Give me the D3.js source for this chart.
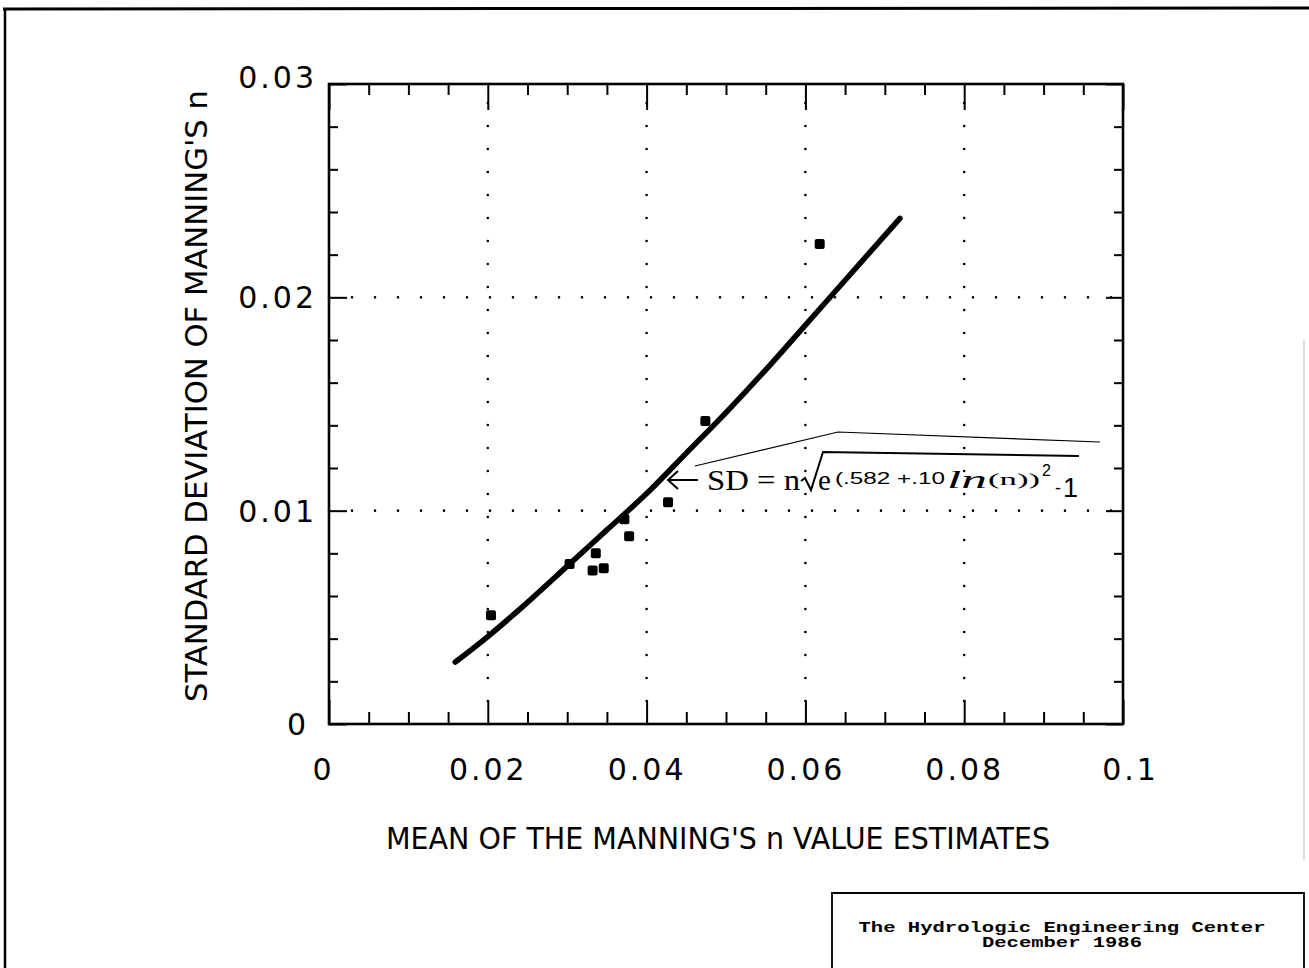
<!DOCTYPE html>
<html>
<head>
<meta charset="utf-8">
<script src="https://cdn.jsdelivr.net/npm/d3@7"></script>
<style>
  html, body { margin: 0; padding: 0; background: #fff; }
  svg { display: block; }
</style>
</head>
<body>
<svg id="chart" width="1309" height="968"></svg>
<script>
// ---------- data ----------
const meanN = [0.0204, 0.0303, 0.0336, 0.0332, 0.0346, 0.0372, 0.0378, 0.0427, 0.0474, 0.0618];
const sdN   = [0.0051, 0.0075, 0.0080, 0.0072, 0.0073, 0.0096, 0.0088, 0.0104, 0.0142, 0.0225];

const curveN  = [0.0159, 0.0200, 0.0250, 0.0300, 0.0350, 0.0400, 0.0450, 0.0500, 0.0550, 0.0600, 0.0650, 0.0719];
const curveSD = [0.0029, 0.0041, 0.0057, 0.0074, 0.0091, 0.0108, 0.0127, 0.0146, 0.0166, 0.0187, 0.0208, 0.0237];

const xTickValues = [0, 0.02, 0.04, 0.06, 0.08, 0.1];
const xTickLabels = ["0", "0.02", "0.04", "0.06", "0.08", "0.1"];
const yTickValues = [0, 0.01, 0.02, 0.03];
const yTickLabels = ["0", "0.01", "0.02", "0.03"];
const xGrid = [0.02, 0.04, 0.06, 0.08];
const yGrid = [0.01, 0.02];

const xTitle = "MEAN OF THE MANNING'S n VALUE ESTIMATES";
const yTitle = "STANDARD DEVIATION OF MANNING'S n";
const creditLines = ["The Hydrologic Engineering Center", "December 1986"];

// ---------- layout ----------
const svg = d3.select("#chart");
const L = 329, R = 1123, T = 84, B = 724;
const x = d3.scaleLinear().domain([0, 0.1]).range([L, R]);
const y = d3.scaleLinear().domain([0, 0.03]).range([B, T]);

const xMinor = x.ticks(25).filter(v => !xTickValues.some(t => Math.abs(t - v) < 1e-9));
const yMinor = y.ticks(15).filter(v => !yTickValues.some(t => Math.abs(t - v) < 1e-9));

const tickFont = "'DejaVu Sans', sans-serif";

// outer page frame
svg.append("line").attr("x1", 3).attr("y1", 9).attr("x2", 1309).attr("y2", 8)
  .attr("stroke", "#000").attr("stroke-width", 3);
svg.append("line").attr("x1", 5).attr("y1", 8).attr("x2", 5).attr("y2", 968)
  .attr("stroke", "#000").attr("stroke-width", 2.5);
svg.append("line").attr("x1", 1304).attr("y1", 340).attr("x2", 1304).attr("y2", 860)
  .attr("stroke", "#bbb").attr("stroke-width", 1);

// gridlines (dotted)
const grid = svg.append("g").attr("stroke", "#000").attr("stroke-width", 2.6)
  .attr("stroke-linecap", "round").attr("stroke-dasharray", "0 23");
grid.selectAll(".vg").data(xGrid).join("line")
  .attr("x1", d => x(d)).attr("x2", d => x(d)).attr("y1", y(0)).attr("y2", y(0.03) + 8);
grid.selectAll(".hg").data(yGrid).join("line")
  .attr("y1", d => y(d)).attr("y2", d => y(d)).attr("x1", x(0)).attr("x2", x(0.1) - 6);

// axes helper
function styleAxis(g) {
  g.select(".domain").remove();
  g.selectAll(".tick line").attr("stroke", "#000").attr("stroke-width", 2);
  g.selectAll("text").attr("fill", "#000").attr("font-family", tickFont)
    .attr("font-size", 30).attr("letter-spacing", 3);
}

// bottom axis
svg.append("g").attr("transform", `translate(0,${B})`)
  .call(d3.axisBottom(x).tickValues(xTickValues).tickSize(-24).tickPadding(35)
    .tickFormat((d, i) => xTickLabels[i]))
  .call(styleAxis)
  .call(g => g.selectAll("text").attr("dx", (d, i) => i === 0 ? -6 : (i === xTickValues.length - 1 ? 7 : 0)));
svg.append("g").attr("transform", `translate(0,${B})`)
  .call(d3.axisBottom(x).tickValues(xMinor).tickSize(-12).tickFormat(""))
  .call(styleAxis);

// top axis
svg.append("g").attr("transform", `translate(0,${T})`)
  .call(d3.axisTop(x).tickValues(xTickValues).tickSize(-26).tickFormat(""))
  .call(styleAxis);
svg.append("g").attr("transform", `translate(0,${T})`)
  .call(d3.axisTop(x).tickValues(xMinor).tickSize(-11).tickFormat(""))
  .call(styleAxis);

// left axis
svg.append("g").attr("transform", `translate(${L},0)`)
  .call(d3.axisLeft(y).tickValues(yTickValues).tickSize(-18).tickPadding(12)
    .tickFormat((d, i) => yTickLabels[i]))
  .call(styleAxis)
  .call(g => g.selectAll("text").attr("dy", (d, i) => i === yTickValues.length - 1 ? "0.12em" : "0.35em")
    .attr("dx", (d, i) => i === 0 ? -8 : 0));
svg.append("g").attr("transform", `translate(${L},0)`)
  .call(d3.axisLeft(y).tickValues(yMinor).tickSize(-9).tickFormat(""))
  .call(styleAxis);

// right axis
svg.append("g").attr("transform", `translate(${R},0)`)
  .call(d3.axisRight(y).tickValues(yTickValues).tickSize(-17).tickFormat(""))
  .call(styleAxis);
svg.append("g").attr("transform", `translate(${R},0)`)
  .call(d3.axisRight(y).tickValues(yMinor).tickSize(-9).tickFormat(""))
  .call(styleAxis);

// plot frame
svg.append("rect").attr("x", L).attr("y", T).attr("width", R - L).attr("height", B - T)
  .attr("fill", "none").attr("stroke", "#000").attr("stroke-width", 2.6);

// fitted curve
const curveData = curveN.map((n, i) => [n, curveSD[i]]);
svg.append("path").datum(curveData)
  .attr("d", d3.line().x(d => x(d[0])).y(d => y(d[1])).curve(d3.curveMonotoneX))
  .attr("fill", "none").attr("stroke", "#000").attr("stroke-width", 5.5)
  .attr("stroke-linecap", "round");

// data points
const pts = meanN.map((n, i) => [n, sdN[i]]);
svg.selectAll(".pt").data(pts).join("rect")
  .attr("x", d => x(d[0]) - 5).attr("y", d => y(d[1]) - 5)
  .attr("width", 10).attr("height", 10).attr("rx", 2)
  .attr("fill", "#000");

// axis titles
svg.append("text").attr("x", 718).attr("y", 849).attr("text-anchor", "middle")
  .attr("font-family", tickFont).attr("font-size", 30)
  .attr("textLength", 664).attr("lengthAdjust", "spacingAndGlyphs")
  .text(xTitle);
svg.append("text").attr("transform", "translate(207,396) rotate(-90)")
  .attr("text-anchor", "middle")
  .attr("font-family", tickFont).attr("font-size", 30)
  .attr("textLength", 612).attr("lengthAdjust", "spacingAndGlyphs")
  .text(yTitle);

// formula annotation
const ann = svg.append("g");
ann.append("line").attr("x1", 668).attr("y1", 480).attr("x2", 698).attr("y2", 480)
  .attr("stroke", "#000").attr("stroke-width", 2);
ann.append("path").attr("d", "M678,471 L668,480 L678,489")
  .attr("fill", "none").attr("stroke", "#000").attr("stroke-width", 2);
ann.append("path").attr("d", "M695,466 L838,432 L1100,442")
  .attr("fill", "none").attr("stroke", "#000").attr("stroke-width", 1.2);
ann.append("path").attr("d", "M801,481 L805,478 L811,490 L823,452 L1079,456")
  .attr("fill", "none").attr("stroke", "#000").attr("stroke-width", 2);

const serif = "'Liberation Serif', 'DejaVu Serif', serif";
const sans = "'Liberation Sans', Arial, sans-serif";
ann.append("text").attr("x", 707).attr("y", 490).attr("font-family", serif)
  .attr("font-size", 29).attr("textLength", 93).attr("lengthAdjust", "spacingAndGlyphs")
  .text("SD = n");
ann.append("text").attr("x", 818).attr("y", 490).attr("font-family", serif)
  .attr("font-size", 29).text("e");
ann.append("text").attr("x", 835).attr("y", 484).attr("font-family", sans)
  .attr("font-size", 17).attr("textLength", 110).attr("lengthAdjust", "spacingAndGlyphs")
  .text("(.582 +.10");
ann.append("text").attr("x", 947).attr("y", 488).attr("font-family", serif)
  .attr("font-style", "italic").attr("font-size", 25)
  .attr("textLength", 40).attr("lengthAdjust", "spacingAndGlyphs").text("ln");
ann.append("text").attr("x", 988).attr("y", 485).attr("font-family", serif)
  .attr("font-size", 16).attr("textLength", 52).attr("lengthAdjust", "spacingAndGlyphs")
  .text("(n))");
ann.append("text").attr("x", 1042).attr("y", 476).attr("font-family", sans)
  .attr("font-size", 16).text("2");
ann.append("text").attr("x", 1055).attr("y", 494).attr("font-family", sans)
  .attr("font-size", 18).text("-");
ann.append("text").attr("x", 1063).attr("y", 497).attr("font-family", sans)
  .attr("font-size", 27).text("1");

// credit box
svg.append("path").attr("d", "M832,968 L832,893 L1304,893 L1304,968")
  .attr("fill", "none").attr("stroke", "#000").attr("stroke-width", 1.8);
svg.selectAll(".credit").data(creditLines).join("text")
  .attr("x", 1062).attr("y", (d, i) => 932 + i * 15)
  .attr("text-anchor", "middle")
  .attr("font-family", "'Liberation Mono', 'Courier New', monospace")
  .attr("font-weight", "bold").attr("font-size", 15)
  .attr("textLength", (d, i) => i === 0 ? 407 : 160)
  .attr("lengthAdjust", "spacingAndGlyphs")
  .text(d => d);
</script>
</body>
</html>
